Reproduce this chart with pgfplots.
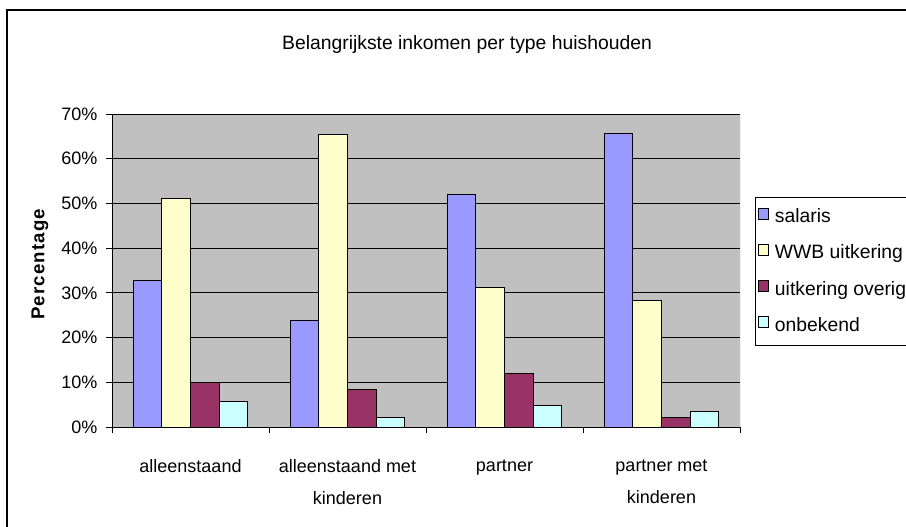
\documentclass[border=0pt]{standalone}
\usepackage{fontspec}
\setmainfont{Liberation Sans}
\newfontfamily\labelfont[LetterSpace=6]{Liberation Sans}
\usepackage{pgfplots}
\pgfplotsset{compat=1.18}
\definecolor{cSal}{HTML}{9999FF}
\definecolor{cWWB}{HTML}{FFFFCC}
\definecolor{cOv}{HTML}{993366}
\definecolor{cOnb}{HTML}{CCFFFF}
\definecolor{plotbg}{HTML}{C0C0C0}
\begin{document}
\begin{tikzpicture}
\path[use as bounding box, clip] (0,0) rectangle (679.5pt,394.5pt);
\draw[line width=0.9pt] (5.25pt,387pt) rectangle (700pt,-20pt);
\node[font=\fontsize{14.5}{17}\selectfont] at (350.25pt,360.75pt) {Belangrijkste inkomen per type huishouden};
\begin{axis}[
  at={(84pt,74.25pt)}, anchor=south west,
  scale only axis, width=471pt, height=234.75pt,
  axis background/.style={fill=plotbg},
  axis x line*=bottom, axis y line*=left,
  axis line style={black, line width=0.75pt, -},
  ymin=0, ymax=70, ytick={0,10,...,70},
  yticklabel={\pgfmathprintnumber{\tick}\%},
  yticklabel style={xshift=-3pt},
  ymajorgrids, major grid style={black, line width=0.75pt},
  xmin=-0.5, xmax=3.5,
  xtick={-0.5,0.5,1.5,2.5,3.5}, xticklabels={},
  extra x ticks={0,1,2,3},
  extra x tick labels={alleenstaand, alleenstaand met\\kinderen, partner, partner met\\kinderen},
  extra x tick style={major tick length=0pt, grid=none},
  xticklabel style={align=center, font=\fontsize{13.5}{24}\selectfont, yshift=-21pt},
  tick align=outside, major tick length=4.5pt,
  tick style={black, line width=0.75pt},
  tick label style={font=\fontsize{13.5}{16}\selectfont},
  /pgf/number format/assume math mode=true,
  ylabel={\labelfont\bfseries Percentage},
  ylabel style={at={(axis description cs:-0.1146,0.52)}, anchor=center, font=\fontsize{14}{16}\selectfont},
  ybar=0pt, bar width=0.183,
  every axis plot/.append style={draw=black, line width=0.75pt},
  legend style={at={(1.0239,0.7348)}, anchor=north west, draw=black, line width=0.75pt,
    inner xsep=1.5pt, inner ysep=8pt, row sep=13pt, column sep=3pt,
    font=\fontsize{14.5}{17}\selectfont,
    nodes={text height=9.5pt, text depth=3pt, inner sep=0pt, inner xsep=1.5pt}},
  legend cell align=left,
  legend image code/.code={\draw[#1, draw=black, line width=0.6pt] (0pt,-0.5pt) rectangle (8pt,7.5pt);},
]
\addplot[fill=cSal] coordinates {(0,32.8) (1,23.8) (2,51.9) (3,65.7)};
\addplot[fill=cWWB] coordinates {(0,51.2) (1,65.4) (2,31.3) (3,28.3)};
\addplot[fill=cOv] coordinates {(0,9.9) (1,8.3) (2,11.9) (3,2.2)};
\addplot[fill=cOnb] coordinates {(0,5.8) (1,2.2) (2,4.8) (3,3.5)};
\legend{\makebox[120pt][l]{salaris},\makebox[120pt][l]{WWB uitkering},\makebox[120pt][l]{uitkering overig},\makebox[120pt][l]{onbekend}}
\draw[gray, line width=0.75pt] (rel axis cs:1,0) -- (rel axis cs:1,1);
\end{axis}
\end{tikzpicture}
\end{document}
